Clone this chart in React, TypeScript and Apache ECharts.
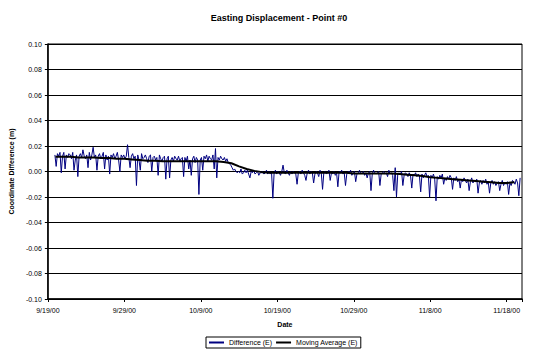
import React, { useEffect, useRef } from "react";
import * as echarts from "echarts";

// Chart text
const TITLE = "Easting Displacement - Point #0";
const Y_NAME = "Coordinate Difference (m)";
const X_NAME = "Date";
const SERIES_DIFF = "Difference (E)";
const SERIES_MA = "Moving Average (E)";

// X axis: days since 9/19/00
const X_MIN_DAY = 0;
const X_MAX_DAY = 62;
const X_TICK_DAYS = 10;
const Y_MIN = -0.1;
const Y_MAX = 0.1;
const Y_INTERVAL = 0.02;

// Difference (E): samples every 4 hours (6 per day), first sample at day 0.92; values in mm
const DIFF_START_DAY = 0.92;
const SAMPLES_PER_DAY = 6;
const differenceMm: number[][] = [
  [13, 4, 14, 12, 15, -1],
  [12, 15, 2, 13, 11, 14],
  [13, 10, 15, 1, 9, 13],
  [-4, 12, 14, 11, 17, 12],
  [10, 13, 3, 15, 9, 13],
  [19, 11, 13, 1, 12, 14],
  [10, 12, 15, 2, 13, 9],
  [12, -2, 13, 11, 14, 10],
  [12, 15, 9, 0, 13, 11],
  [13, 10, 12, 21, 11, 3],
  [12, 14, 10, 12, -11, 13],
  [9, 1, 14, 10, 11, 13],
  [10, 7, 12, 13, 0, 11],
  [12, 9, 11, -3, 13, 10],
  [8, 11, 12, -6, 10, 12],
  [-5, 9, 11, 8, 12, 10],
  [9, 12, 8, 10, 11, -4],
  [11, 8, 12, 2, 9, -3],
  [10, 12, 7, 11, 9, -18],
  [9, 11, 1, 12, 10, 13],
  [8, 12, 10, 9, 13, 2],
  [18, -5, 11, 9, 12, 10],
  [9, 11, 8, 10, 7, 6],
  [5, 3, 1, 2, 0, -1],
  [0, -1, 2, -2, -1, 1],
  [-1, 1, -2, -5, 0, -1],
  [1, -2, -1, 0, -3, -1],
  [-1, 0, -2, -1, 1, -2],
  [0, -2, -1, -21, -1, 1],
  [-2, 0, -1, -3, 0, 5],
  [-1, -2, 1, -1, -3, 0],
  [-2, 0, -1, -2, -10, -1],
  [0, -2, 1, -1, -3, -7],
  [-1, 1, -2, 0, -1, -9],
  [-2, 0, -1, -4, 1, -1],
  [-14, -1, 0, -2, -1, 1],
  [-7, -1, -2, 0, -3, -1],
  [-12, 0, -1, 1, -2, -1],
  [-11, -2, 0, -1, 1, -3],
  [-1, 0, -8, -2, -1, 1],
  [-2, -1, 0, -3, -1, -5],
  [-1, 0, -15, -2, 1, -1],
  [-2, -1, 0, -11, -2, -1],
  [0, -2, -1, -4, 1, -2],
  [-1, -3, -15, 3, -20, -2],
  [-1, -2, 0, -11, -3, -1],
  [-2, -4, -1, -3, -13, -2],
  [-3, -1, -4, -2, -3, -16],
  [-2, -5, -3, -1, -4, -3],
  [-20, -3, -5, -2, -6, -23],
  [-4, -6, -3, -5, -2, -10],
  [-5, -7, -4, -6, -3, -5],
  [-14, -5, -7, -4, -8, -6],
  [-13, -6, -8, -5, -7, -9],
  [-6, -15, -8, -5, -9, -7],
  [-8, -6, -17, -9, -7, -10],
  [-7, -9, -6, -10, -8, -17],
  [-9, -7, -10, -8, -11, -9],
  [-8, -15, -10, -7, -11, -9],
  [-10, -8, -18, -9, -11, -7],
  [-8, -10, -6, -9, -19, -5],
];

// Moving Average (E): one value per day, starting at day 1; values in mm
const MA_START_DAY = 1;
const movingAverageMm: number[] = [
  11.5, 11.5, 11.5, 11, 11, 11, 10.5, 10.5, 10, 10,
  9.5, 9, 8.5, 8.5, 8, 8, 8, 8, 8, 8,
  8, 8, 7.5, 6.5, 4, 2, 0.5, -0.5, -1, -1,
  -1, -1, -1, -1, -1, -1, -1, -1, -1, -1.5,
  -1.5, -1.5, -1.5, -1.5, -1.5, -2, -2.5, -3, -3.5, -4.5,
  -5, -5.5, -6, -6.5, -7, -7.5, -8, -8.5, -9, -9,
  -8.5,
];

const FONT = "'Liberation Sans', Arial, sans-serif";

function dayLabel(v: number): string {
  if (Math.abs(v % X_TICK_DAYS) > 1e-6) return "";
  const d = new Date(2000, 8, 19 + Math.round(v));
  return `${d.getMonth() + 1}/${d.getDate()}/00`;
}

export default function App() {
  const ref = useRef<HTMLDivElement>(null);

  useEffect(() => {
    if (!ref.current) return;
    const chart = echarts.init(ref.current, undefined, { renderer: "svg" });

    const diffData: [number, number][] = [];
    differenceMm.flat().forEach((v, i) => {
      diffData.push([DIFF_START_DAY + i / SAMPLES_PER_DAY, v / 1000]);
    });
    const maData: [number, number][] = movingAverageMm.map((v, i) => [
      MA_START_DAY + i,
      v / 1000,
    ]);

    chart.setOption({
      animation: false,
      backgroundColor: "#fff",
      textStyle: { fontFamily: FONT },
      title: {
        text: TITLE,
        left: "center",
        top: 8,
        textStyle: { fontSize: 9, fontWeight: "bold", color: "#000", fontFamily: FONT },
      },
      grid: {
        left: 47,
        right: 36,
        top: 44,
        bottom: 51,
        show: true,
        borderColor: "#000",
        borderWidth: 1,
        backgroundColor: "#fff",
      },
      legend: {
        top: 337,
        left: 206,
        orient: "horizontal",
        itemWidth: 15,
        itemHeight: 2,
        itemGap: 4,
        padding: [2, 3, 2, 3],
        borderColor: "#000",
        borderWidth: 1,
        borderRadius: 0,
        textStyle: { fontSize: 7, color: "#000", fontFamily: FONT },
        data: [
          { name: SERIES_DIFF, icon: "rect" },
          { name: SERIES_MA, icon: "rect" },
        ],
      },
      xAxis: {
        type: "value",
        min: X_MIN_DAY,
        max: X_MAX_DAY,
        interval: X_TICK_DAYS,
        name: X_NAME,
        nameLocation: "middle",
        nameGap: 22,
        nameTextStyle: { fontSize: 7, fontWeight: "bold", color: "#000", fontFamily: FONT },
        axisLine: { show: true, onZero: false, lineStyle: { color: "#000", width: 1.5 } },
        axisTick: { show: true, inside: false, length: 3, lineStyle: { color: "#000" } },
        axisLabel: {
          fontSize: 7,
          color: "#000",
          margin: 8,
          fontFamily: FONT,
          formatter: (v: number) => dayLabel(v),
        },
        splitLine: { show: false },
      },
      yAxis: {
        type: "value",
        min: Y_MIN,
        max: Y_MAX,
        interval: Y_INTERVAL,
        name: Y_NAME,
        nameLocation: "middle",
        nameRotate: 90,
        nameGap: 25,
        nameTextStyle: { fontSize: 7, fontWeight: "bold", color: "#000", fontFamily: FONT },
        axisLine: { show: true, lineStyle: { color: "#000", width: 1.5 } },
        axisTick: { show: true, inside: false, length: 3, lineStyle: { color: "#000" } },
        axisLabel: {
          fontSize: 7,
          color: "#000",
          margin: 6,
          fontFamily: FONT,
          formatter: (v: number) => v.toFixed(2),
        },
        splitLine: { show: true, lineStyle: { color: "#000", width: 1 } },
      },
      series: [
        {
          name: SERIES_DIFF,
          type: "line",
          data: diffData,
          showSymbol: false,
          symbol: "none",
          lineStyle: { color: "#000080", width: 1 },
          itemStyle: { color: "#000080" },
          z: 2,
        },
        {
          name: SERIES_MA,
          type: "line",
          data: maData,
          showSymbol: false,
          symbol: "none",
          lineStyle: { color: "#000", width: 2 },
          itemStyle: { color: "#000" },
          z: 3,
        },
      ],
    });

    return () => chart.dispose();
  }, []);

  return (
    <div
      ref={ref}
      style={{ position: "fixed", left: 0, top: 0, width: 558, height: 350 }}
    />
  );
}
